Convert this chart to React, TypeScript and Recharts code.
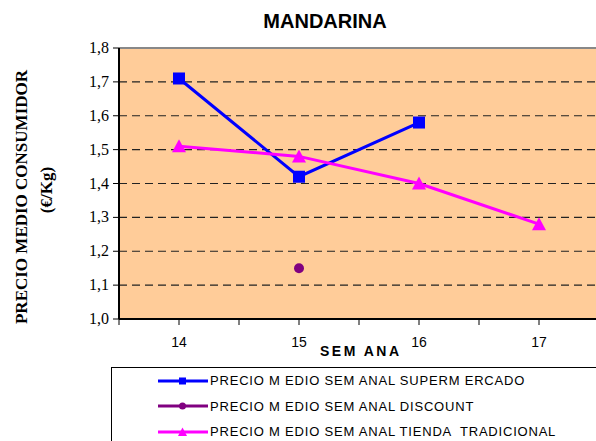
import React from "react"
import {
  LineChart,
  Line,
  XAxis,
  YAxis,
  CartesianGrid,
  ReferenceLine,
} from "recharts"

const weeks = [14, 15, 16, 17]
const supermercado = [1.71, 1.42, 1.58, null]
const discount = [null, 1.15, null, null]
const tiendaTradicional = [1.51, 1.48, 1.4, 1.28]

const yTicks = [1.0, 1.1, 1.2, 1.3, 1.4, 1.5, 1.6, 1.7, 1.8]
const gridValues = [1.1, 1.2, 1.3, 1.4, 1.5, 1.6, 1.7]
const xTicks = [13.5, 14, 14.5, 15, 15.5, 16, 16.5, 17, 17.5]

const seriesNames = {
  supermercado: "PRECIO M EDIO SEM ANAL SUPERM ERCADO",
  discount: "PRECIO M EDIO SEM ANAL DISCOUNT",
  tienda: "PRECIO M EDIO SEM ANAL TIENDA  TRADICIONAL",
}

const data = weeks.map((w, i) => ({
  week: w,
  supermercado: supermercado[i],
  discount: discount[i],
  tienda: tiendaTradicional[i],
}))

const serif = "Liberation Serif, Times New Roman, serif"
const sans = "Liberation Sans, Arial, sans-serif"

const SquareDot = (props: any) => {
  const { cx, cy, value } = props
  if (value == null || cx == null) return <g key={props.key} />
  return <rect key={props.key} x={cx - 6} y={cy - 6} width={12} height={12} fill="#0000FF" />
}

const TriangleDot = (props: any) => {
  const { cx, cy, value } = props
  if (value == null || cx == null) return <g key={props.key} />
  return (
    <polygon
      key={props.key}
      points={`${cx},${cy - 7} ${cx - 7},${cy + 6} ${cx + 7},${cy + 6}`}
      fill="#FF00FF"
    />
  )
}

const CircleDot = (props: any) => {
  const { cx, cy, value } = props
  if (value == null || cx == null) return <g key={props.key} />
  return <circle key={props.key} cx={cx} cy={cy} r={5} fill="#800080" />
}

const YTick = (props: any) => {
  const { x, y, payload } = props
  return (
    <text
      x={x - 2}
      y={y}
      dy={5}
      textAnchor="end"
      fontFamily={serif}
      fontSize={16}
      fill="#000"
    >
      {payload.value.toFixed(1).replace(".", ",")}
    </text>
  )
}

const XTick = (props: any) => {
  const { x, y, payload } = props
  if (!Number.isInteger(payload.value)) return <g />
  return (
    <text
      x={x}
      y={y}
      dy={20}
      textAnchor="middle"
      fontFamily={sans}
      fontSize={14}
      fill="#000"
    >
      {payload.value}
    </text>
  )
}

const legendItems = [
  { name: seriesNames.supermercado, color: "#0000FF", shape: "square" },
  { name: seriesNames.discount, color: "#800080", shape: "circle" },
  { name: seriesNames.tienda, color: "#FF00FF", shape: "triangle" },
]

const LegendBox = () => (
  <div
    style={{
      position: "absolute",
      left: 111,
      top: 367,
      border: "1px solid #000",
      borderRight: "none",
      borderBottom: "none",
      width: 500,
      height: 90,
      boxSizing: "border-box",
      paddingTop: 0,
      paddingLeft: 46,
    }}
  >
    {legendItems.map((item) => (
      <div
        key={item.name}
        style={{ display: "flex", alignItems: "center", height: 25.5 }}
      >
        <svg width={52} height={12}>
          <line x1={0} y1={6} x2={50} y2={6} stroke={item.color} strokeWidth={3} />
          {item.shape === "square" && <rect x={21} y={2.5} width={7} height={7} fill={item.color} />}
          {item.shape === "circle" && <circle cx={24.5} cy={6} r={3.5} fill={item.color} />}
          {item.shape === "triangle" && (
            <polygon points="24.5,1.5 20,10 29,10" fill={item.color} />
          )}
        </svg>
        <span
          style={{
            fontFamily: sans,
            fontSize: 13,
            letterSpacing: 0.8,
            color: "#000",
            whiteSpace: "pre",
          }}
        >
          {item.name}
        </span>
      </div>
    ))}
  </div>
)

export default function App() {
  return (
    <div
      style={{
        position: "absolute",
        left: 0,
        top: 0,
        width: 596,
        height: 441,
        overflow: "hidden",
        background: "#fff",
      }}
    >
      <div
        style={{
          position: "absolute",
          left: 325,
          top: 10,
          transform: "translateX(-50%)",
          fontFamily: sans,
          fontWeight: "bold",
          fontSize: 20,
          whiteSpace: "nowrap",
        }}
      >
        MANDARINA
      </div>
      <div
        style={{
          position: "absolute",
          left: 22,
          top: 197,
          transform: "translate(-50%, -50%) rotate(-90deg)",
          fontFamily: serif,
          fontWeight: "bold",
          fontSize: 17,
          whiteSpace: "nowrap",
        }}
      >
        PRECIO MEDIO CONSUMIDOR
      </div>
      <div
        style={{
          position: "absolute",
          left: 47,
          top: 190,
          transform: "translate(-50%, -50%) rotate(-90deg)",
          fontFamily: serif,
          fontWeight: "bold",
          fontSize: 17,
          whiteSpace: "nowrap",
        }}
      >
        (€/Kg)
      </div>
      <div
        style={{
          position: "absolute",
          left: 320,
          top: 343,
          fontFamily: sans,
          fontWeight: "bold",
          fontSize: 14,
          letterSpacing: 2.5,
          whiteSpace: "pre",
        }}
      >
        SEM ANA
      </div>
      <div style={{ position: "absolute", left: 0, top: 0 }}>
        <LineChart
          width={620}
          height={441}
          data={data}
          margin={{ top: 48, right: 21, left: 79, bottom: 92 }}
        >
          <CartesianGrid
            fill="#FFCC99"
            horizontal={false}
            vertical={false}
            stroke="none"
          />
          {gridValues.map((v) => (
            <ReferenceLine
              key={v}
              y={v}
              stroke="#222"
              strokeDasharray="8 5"
              strokeWidth={1.2}
            />
          ))}
          <ReferenceLine y={1.8} stroke="#888" strokeWidth={2} />
          <XAxis
            dataKey="week"
            type="number"
            domain={[13.5, 17.5]}
            ticks={xTicks}
            interval={0}
            height={30}
            axisLine={{ stroke: "#000", strokeWidth: 2 }}
            tickLine={{ stroke: "#000" }}
            tickSize={6}
            tick={XTick}
          />
          <YAxis
            width={40}
            domain={[1.0, 1.8]}
            ticks={yTicks}
            interval={0}
            axisLine={{ stroke: "#000", strokeWidth: 2 }}
            tickLine={{ stroke: "#000" }}
            tickSize={6}
            tick={YTick}
          />
          <Line
            dataKey="supermercado"
            name={seriesNames.supermercado}
            stroke="#0000FF"
            strokeWidth={3}
            dot={SquareDot}
            activeDot={false}
            connectNulls={false}
            isAnimationActive={false}
          />
          <Line
            dataKey="discount"
            name={seriesNames.discount}
            stroke="#800080"
            strokeWidth={3}
            dot={CircleDot}
            activeDot={false}
            isAnimationActive={false}
          />
          <Line
            dataKey="tienda"
            name={seriesNames.tienda}
            stroke="#FF00FF"
            strokeWidth={3}
            dot={TriangleDot}
            activeDot={false}
            isAnimationActive={false}
          />
        </LineChart>
      </div>
      <LegendBox />
    </div>
  )
}
